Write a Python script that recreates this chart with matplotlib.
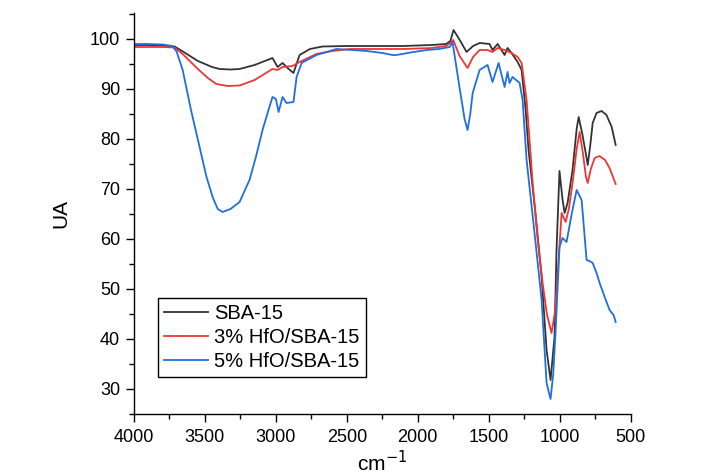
import matplotlib
matplotlib.use("Agg")
import matplotlib.pyplot as plt
from matplotlib.ticker import MultipleLocator

plt.rcParams['font.family'] = ['Liberation Sans', 'DejaVu Sans']

# SBA-15
sba_x = [4000, 3900, 3800, 3714, 3650, 3550, 3450, 3397, 3320, 3256, 3150, 3024, 2988,
         2953, 2910, 2876, 2833, 2760, 2671, 2500, 2300, 2100, 1900, 1800, 1770,
         1748, 1700, 1656, 1610, 1564, 1494, 1473, 1437, 1388, 1367, 1339, 1296,
         1268, 1240, 1219, 1170, 1127, 1092, 1064, 1036, 1022, 1001, 980, 965,
         944, 909, 880, 866, 840, 810, 802, 785, 767, 740, 704, 670, 633, 605]
sba_y = [98.8, 98.8, 98.7, 98.5, 97.4, 95.6, 94.4, 94.0, 93.9, 94.0, 94.8, 96.2, 94.4,
         95.2, 94.0, 93.2, 96.8, 98.0, 98.5, 98.6, 98.6, 98.6, 98.8, 99.0, 99.6,
         101.8, 99.6, 97.4, 98.6, 99.2, 99.0, 97.8, 99.0, 96.8, 98.2, 97.2, 95.4,
         93.8, 86.0, 77.8, 65.0, 52.4, 37.8, 31.8, 40.4, 57.8, 73.6, 68.0, 65.2,
         67.2, 73.8, 82.0, 84.4, 81.0, 76.2, 74.8, 78.5, 83.2, 85.2, 85.6, 84.8, 82.4, 78.8]

# 3% HfO/SBA-15
hf3_x = [4000, 3900, 3800, 3714, 3650, 3550, 3480, 3420, 3340, 3255, 3150, 3024, 2988,
         2953, 2883, 2833, 2714, 2600, 2480, 2300, 2100, 1900, 1800, 1762, 1750,
         1705, 1649, 1610, 1564, 1508, 1473, 1437, 1388, 1339, 1296, 1268, 1233,
         1190, 1155, 1120, 1090, 1057, 1035, 1015, 986, 958, 935, 909, 880, 859,
         835, 815, 802, 780, 753, 718, 680, 648, 605]
hf3_y = [98.4, 98.4, 98.4, 98.3, 96.8, 94.0, 92.2, 91.0, 90.6, 90.7, 91.8, 94.0, 93.8,
         94.4, 94.6, 95.4, 97.0, 97.6, 98.0, 98.0, 98.0, 98.2, 98.6, 99.4, 99.8,
         96.6, 94.2, 96.4, 97.8, 97.8, 97.4, 98.2, 97.8, 97.2, 96.4, 95.2, 87.8,
         71.2, 60.0, 51.2, 45.0, 41.2, 45.0, 52.4, 65.2, 63.4, 66.0, 71.2, 78.0, 81.4,
         77.0, 72.5, 71.2, 74.0, 76.2, 76.6, 75.8, 74.2, 71.0]

# 5% HfO/SBA-15
hf5_x = [4000, 3900, 3800, 3730, 3700, 3657, 3600, 3538, 3490, 3446, 3410, 3376, 3320,
         3256, 3186, 3140, 3094, 3050, 3024, 3000, 2981, 2953, 2925, 2876, 2854,
         2819, 2714, 2573, 2460, 2360, 2250, 2178, 2150, 2050, 1937, 1850, 1775,
         1755, 1705, 1670, 1649, 1630, 1613, 1564, 1508, 1473, 1430, 1388, 1367,
         1353, 1332, 1282, 1261, 1233, 1180, 1127, 1092, 1064, 1045, 1029, 1001,
         980, 951, 915, 880, 845, 810, 790, 767, 740, 718, 680, 648, 620, 605]
hf5_y = [99.0, 99.0, 98.9, 98.6, 97.5, 93.8, 86.0, 78.4, 72.5, 68.4, 66.0, 65.4, 66.0,
         67.4, 71.8, 76.5, 81.8, 86.0, 88.4, 88.0, 85.4, 88.4, 87.2, 87.4, 92.4,
         95.2, 96.8, 98.0, 97.8, 97.6, 97.2, 96.8, 96.8, 97.3, 97.8, 98.0, 98.4,
         99.4, 90.2, 84.0, 81.8, 85.0, 89.2, 93.8, 94.8, 91.4, 95.2, 90.4, 93.4,
         91.2, 92.4, 91.2, 87.8, 75.8, 62.0, 47.8, 31.2, 28.0, 33.0, 41.2, 58.4,
         60.2, 59.4, 65.0, 69.8, 67.8, 55.8, 55.6, 55.2, 53.2, 51.2, 48.2, 45.8, 44.8, 43.4]

labels = ['SBA-15', '3% HfO/SBA-15', '5% HfO/SBA-15']
colors = ['#333333', '#f03535', '#1f6fe0']

fig = plt.figure(figsize=(7.19, 4.76), dpi=100)
ax = fig.add_axes([0.1864, 0.1303, 0.6906, 0.8424])

for xs, ys, lab, col in zip([sba_x, hf3_x, hf5_x], [sba_y, hf3_y, hf5_y], labels, colors):
    ax.plot(xs, ys, color=col, lw=1.3, label=lab)

ax.set_xlim(4000, 500)
ax.set_ylim(25, 105.2)
ax.spines['top'].set_visible(False)
ax.spines['right'].set_visible(False)
for s in ['left', 'bottom']:
    ax.spines[s].set_linewidth(1.0)

ax.xaxis.set_major_locator(MultipleLocator(500))
ax.xaxis.set_minor_locator(MultipleLocator(250))
ax.yaxis.set_minor_locator(MultipleLocator(5))
ax.set_yticks([30, 40, 50, 60, 70, 80, 90, 100])
ax.tick_params(which='major', length=6, width=1.0, labelsize=13, direction='out')
ax.tick_params(which='minor', length=3.5, width=1.0, direction='out')
ax.tick_params(axis='x', pad=5)
ax.tick_params(axis='y', pad=4)

ax.set_xlabel('cm$^{-1}$', fontsize=15, labelpad=3)
ax.set_ylabel('UA', fontsize=15, labelpad=14)

leg = ax.legend(loc='lower left', bbox_to_anchor=(0.048, 0.092), borderaxespad=0,
                fancybox=False, edgecolor='black', fontsize=14.5, handlelength=2.2,
                handletextpad=0.3, labelspacing=0.25, borderpad=0.3, framealpha=1)
leg.get_frame().set_linewidth(1.0)

fig.savefig('out.png', dpi=100)
